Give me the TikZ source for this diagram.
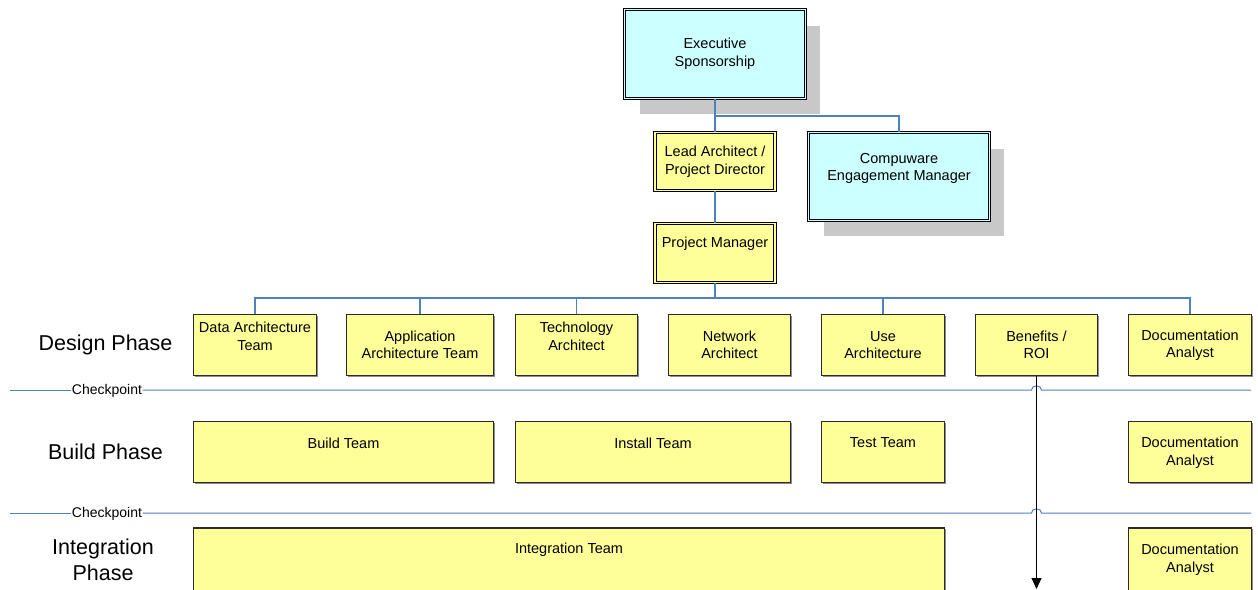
\documentclass[tikz,border=0pt]{standalone}
\usepackage{fontspec}
\setmainfont{Liberation Sans}
\usetikzlibrary{arrows.meta,shadows}
\definecolor{boxyellow}{HTML}{FFFF99}
\definecolor{boxcyan}{HTML}{CCFFFF}
\definecolor{linkblue}{HTML}{4F81BD}
\definecolor{shadowgray}{HTML}{C8C8C8}
\definecolor{edgegray}{HTML}{2B2B2B}

\begin{document}
\begin{tikzpicture}[x=1pt,y=-1pt,
  % plain team box
  teambox/.style 2 args={draw=edgegray, line width=1.1pt, fill=boxyellow,
    inner sep=0pt, minimum width=#1, minimum height=#2,
    drop shadow={shadow xshift=1.2pt, shadow yshift=-1.2pt, fill=black!45, opacity=1}},
  % double-ruled box
  dbox/.style n args={3}{draw=black, line width=1pt, double=#1, double distance=1.5pt,
    fill=#1, inner sep=0pt, minimum width=#2, minimum height=#3},
  bigshadow/.style={drop shadow={shadow xshift=15pt, shadow yshift=-16pt, fill=shadowgray, opacity=1}},
  txt/.style={font=\fontsize{14.5}{17.5}\selectfont, align=center, inner sep=0pt},
  phase/.style={font=\fontsize{21.5}{26}\selectfont, align=center, inner sep=0pt},
  cplabel/.style={font=\fontsize{14}{16}\selectfont, inner sep=0.4pt},
  conn/.style={draw=linkblue, line width=1.3pt},
  cpline/.style={draw=linkblue, line width=1pt},
  flow/.style={draw=black, line width=1.1pt, -{Triangle[length=11pt,width=10pt]}}
]
\useasboundingbox (0,0) rectangle (1258,589);
\clip (0,0) rectangle (1258,589);

% ---------- management chain ----------
\node[dbox={boxcyan}{180.6}{88.6}, bigshadow] (exec) at (715,54) {};
\node[txt] (execT) at (715,54) {Executive\\Sponsorship};

\node[dbox={boxyellow}{119.6}{57.6}] (lead) at (715,161.5) {};
\node[txt] (leadT) at (715,161.5) {Lead Architect /\\Project Director};

\node[dbox={boxcyan}{180.6}{87.6}, bigshadow] (cpw) at (899,176.5) {};
\node[txt] (cpwT) at (899,168.5) {Compuware\\Engagement Manager};

\node[dbox={boxyellow}{119.6}{58.6}] (pm) at (715,253) {};
\node[txt] (pmT) at (715,244) {Project Manager};

% ---------- design phase ----------
\node[teambox={123}{61}] (da) at (255,345) {};
\node[txt] (daT) at (255,336.5) {Data Architecture\\Team};
\node[teambox={147}{61}] (aa) at (420,345) {};
\node[txt] (aaT) at (420,345) {Application\\Architecture Team};
\node[teambox={122}{61}] (ta) at (576.5,345) {};
\node[txt] (taT) at (576.5,336.5) {Technology\\Architect};
\node[teambox={122}{61}] (na) at (729.5,345) {};
\node[txt] (naT) at (729.5,345) {Network\\Architect};
\node[teambox={123}{61}] (ua) at (883,345) {};
\node[txt] (uaT) at (883,345) {Use\\Architecture};
\node[teambox={122}{61}] (br) at (1036.5,345) {};
\node[txt] (brT) at (1036.5,345) {Benefits /\\ROI};
\node[teambox={123}{61}] (doc1) at (1190,345) {};
\node[txt] (doc1T) at (1190,345) {Documentation\\Analyst};

% ---------- build phase ----------
\node[teambox={300}{61}] (bt) at (343.5,452) {};
\node[txt] (btT) at (343.5,443) {Build Team};
\node[teambox={275}{61}] (it) at (653,452) {};
\node[txt] (itT) at (653,443) {Install Team};
\node[teambox={123}{61}] (tt) at (883,452) {};
\node[txt] (ttT) at (883,443) {Test Team};
\node[teambox={123}{61}] (doc2) at (1190,452) {};
\node[txt] (doc2T) at (1190,452.5) {Documentation\\Analyst};

% ---------- integration phase ----------
\node[teambox={751}{70}] (ig) at (569,563) {};
\node[txt] (igT) at (569,550) {Integration Team};
\node[teambox={123}{70}] (doc3) at (1190,563) {};
\node[txt] (doc3T) at (1190,559.5) {Documentation\\Analyst};

% ---------- phase titles ----------
\node[phase] (ph1) at (105.5,344.5) {Design Phase};
\node[phase] (ph2) at (105.5,452) {Build Phase};
\node[phase] (ph3) at (103,560) {Integration\\Phase};

% ---------- reporting lines ----------
\coordinate (j1) at (715,116);
\coordinate (bus) at (715,298);
\draw[conn] (exec.south) -- (j1) -| (cpw.north);
\draw[conn] (j1) -- (lead.north);
\draw[conn] (lead.south) -- (pm.north);
\draw[conn] (pm.south) -- (bus);
\foreach \n in {da,aa,ta,ua,doc1} \draw[conn] (bus) -| (\n.north);

% ---------- checkpoints ----------
\node[cplabel] (cp1) at (107,390.5) {Checkpoint};
\node[cplabel] (cp2) at (107,513.5) {Checkpoint};
\coordinate (cp1L) at (10,390);  \coordinate (cp1R) at (1251,390);
\coordinate (cp2L) at (10,513);  \coordinate (cp2R) at (1251,513);
\draw[cpline] (cp1L) -- (cp1.west |- cp1L);
\draw[cpline] (cp1.east |- cp1L) -- (1031.5,390) .. controls (1031.5,384.5) and (1041.5,384.5) .. (1041.5,390) -- (cp1R);
\draw[cpline] (cp2L) -- (cp2.west |- cp2L);
\draw[cpline] (cp2.east |- cp2L) -- (1031.5,513) .. controls (1031.5,507.5) and (1041.5,507.5) .. (1041.5,513) -- (cp2R);

% ---------- benefits tracking arrow ----------
\coordinate (arrEnd) at (1036.5,589);
\draw[flow] (br.south) -- (arrEnd);
\end{tikzpicture}
\end{document}
